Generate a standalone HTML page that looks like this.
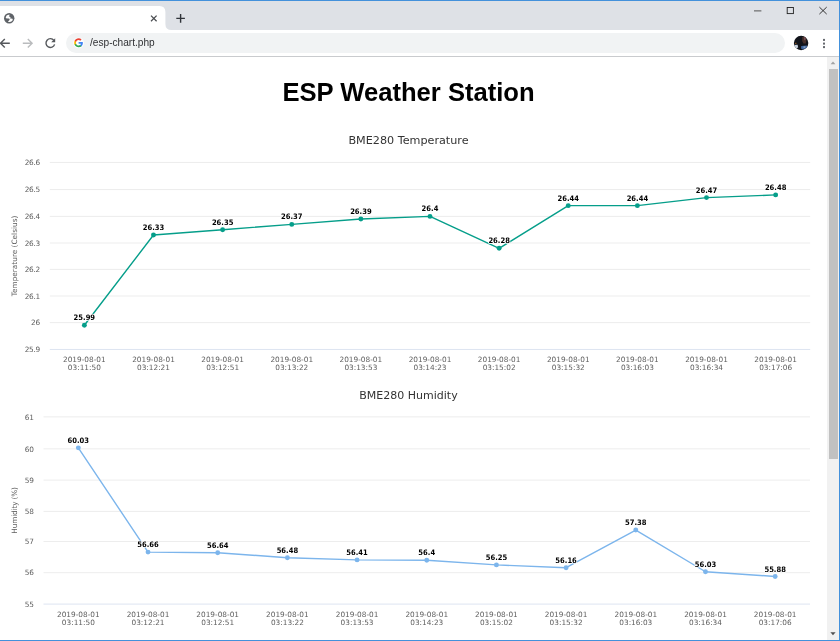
<!DOCTYPE html>
<html lang="en"><head><meta charset="utf-8"><title>ESP Weather Station</title>
<style>
html,body{margin:0;padding:0;background:#fff;}
body{width:840px;height:641px;position:relative;overflow:hidden;font-family:"Liberation Sans",sans-serif;}
#win{position:absolute;left:0;top:0;width:840px;height:641px;overflow:hidden;background:#fff;}
#tabstrip{position:absolute;left:0;top:0;width:840px;height:30px;background:#dee1e6;}
#topb{position:absolute;left:0;top:0;width:840px;height:1px;background:#4391db;z-index:20;}
#rightb{position:absolute;left:839px;top:0;width:1px;height:641px;background:#4391db;z-index:20;}
#botb{position:absolute;left:0;top:640px;width:840px;height:1px;background:#4391db;z-index:20;}
#toolbar{position:absolute;left:0;top:30px;width:840px;height:26px;background:#fff;}
#tbline{position:absolute;left:0;top:56px;width:840px;height:1px;background:#c9cbce;}
#pill{position:absolute;left:66px;top:33px;width:719px;height:19.6px;border-radius:10px;background:#f1f3f4;}
#url{position:absolute;left:90px;top:37.35px;font-size:10.15px;line-height:12px;color:#2f3033;white-space:nowrap;}
#content{position:absolute;left:0;top:57px;width:827px;height:583px;background:#fff;}
h2{position:absolute;left:0;top:77px;width:817px;margin:0;text-align:center;font-size:25.6px;line-height:30px;font-weight:bold;color:#000;white-space:nowrap;}
#sb{position:absolute;left:827px;top:57px;width:12px;height:583px;background:#f1f1f1;}
#thumb{position:absolute;left:2px;top:12px;width:9px;height:390px;background:#c1c1c1;}
svg{position:absolute;left:0;top:0;}
.ct{font-family:"DejaVu Sans", "Liberation Sans", sans-serif;font-size:11.2px;fill:#333;}
.al{font-family:"DejaVu Sans", "Liberation Sans", sans-serif;font-size:7.35px;fill:#5e5e5e;}
.yl{letter-spacing:-0.3px;}
.dl{font-family:"DejaVu Sans Condensed","DejaVu Sans","Liberation Sans",sans-serif;font-stretch:condensed;font-size:7.55px;font-weight:bold;fill:#000;stroke:#fff;stroke-width:1.4px;paint-order:stroke;stroke-linejoin:round;}
</style></head><body>
<div id="win">
<div id="tabstrip"></div>
<div id="toolbar"></div>
<div id="tbline"></div>
<div id="pill"></div>
<div id="url">/esp-chart.php</div>
<div id="content"></div>
<h2>ESP Weather Station</h2>
<div id="sb"><div id="thumb"></div></div>
<svg id="chrome" width="840" height="641" viewBox="0 0 840 641">
<!-- active tab -->
<path d="M0 30 L0 6 L159.4 6 Q165.4 6 165.4 12 L165.4 24 Q165.4 30 171.6 30 Z" fill="#fff"/>
<!-- globe favicon -->
<circle cx="9.2" cy="18.2" r="5.2" fill="#5f6368"/>
<path d="M5.7 17.4 L6.6 15.6 L8.4 14.8 L9.9 14.8 L8.8 16.3 L10.6 17.3 L10 18.6 L7.8 18.5 L6 18.2 Z" fill="#fff"/>
<path d="M9.2 18.3 L12.5 18.7 L12.8 20 L11.8 21.3 L10 22.1 L7.9 21.9 L9 20.6 L9.9 19.8 L8.9 18.8 Z" fill="#fff"/>
<!-- tab close -->
<path d="M151 15.6 L156.6 21.2 M156.6 15.6 L151 21.2" stroke="#4a4d51" stroke-width="1.25" fill="none"/>
<!-- new tab plus -->
<path d="M176.3 18.4 H184.9 M180.6 14.1 V22.7" stroke="#30343a" stroke-width="1.4" fill="none"/>
<!-- window controls -->
<path d="M754 10.9 H761.4" stroke="#555" stroke-width="1" fill="none"/>
<rect x="787.2" y="7.5" width="6.2" height="6.1" stroke="#222" stroke-width="0.9" fill="none"/>
<path d="M819.4 7.1 L826.7 14.1 M826.7 7.1 L819.4 14.1" stroke="#222" stroke-width="0.9" fill="none"/>
<!-- back -->
<path d="M9.8 43.2 H0.6 M4.8 38.9 L0.5 43.2 L4.8 47.5" stroke="#55585c" stroke-width="1.4" fill="none"/>
<!-- forward -->
<path d="M22.8 43.2 H32 M27.8 38.9 L32.1 43.2 L27.8 47.5" stroke="#babcbe" stroke-width="1.4" fill="none"/>
<!-- reload -->
<path d="M53.9 40.4 A4.4 4.4 0 1 0 54.6 44.4" stroke="#55585c" stroke-width="1.4" fill="none"/>
<path d="M55.2 38.2 V42.2 H51.2 Z" fill="#55585c"/>
<!-- google G -->
<circle cx="78.6" cy="42.9" r="5.4" fill="#fff" fill-opacity="0.85"/>
<g transform="translate(73.75,37.95) scale(0.202)">
<path fill="#4285F4" d="M45.12 24.5c0-1.56-.14-3.06-.4-4.5H24v8.51h11.84c-.51 2.75-2.06 5.08-4.39 6.64v5.52h7.11c4.16-3.83 6.56-9.47 6.56-16.17z"/>
<path fill="#34A853" d="M24 46c5.94 0 10.92-1.97 14.56-5.33l-7.11-5.52c-1.97 1.32-4.49 2.1-7.45 2.1-5.73 0-10.58-3.87-12.31-9.07H4.34v5.7C7.96 41.07 15.4 46 24 46z"/>
<path fill="#FBBC05" d="M11.69 28.18C11.25 26.86 11 25.45 11 24s.25-2.86.69-4.18v-5.7H4.34C2.85 17.09 2 20.45 2 24c0 3.55.85 6.91 2.34 9.88l7.35-5.7z"/>
<path fill="#EA4335" d="M24 10.75c3.23 0 6.13 1.11 8.41 3.29l6.31-6.31C34.91 4.18 29.93 2 24 2 15.4 2 7.96 6.930 4.34 14.12l7.35 5.7c1.73-5.2 6.58-9.07 12.31-9.07z"/>
</g>
<!-- avatar -->
<clipPath id="avc"><circle cx="801.1" cy="43" r="7.2"/></clipPath>
<g clip-path="url(#avc)">
<rect x="793" y="35" width="16" height="16" fill="#11141b"/>
<path d="M802.2 37 L805.6 36.6 L806.4 40 L805.8 43.4 L803.4 43.6 L802.2 41 Z" fill="#47302b"/>
<path d="M803.8 37.4 L805.4 37.2 L805.6 39.6 L804.4 40.4 Z" fill="#7d525a"/>
<path d="M794 45 L797.6 44.7 L798.2 47.6 L795.4 48.4 Z" fill="#c9d3e0"/>
<path d="M801.2 46 L806.9 45.4 L807.2 48 L803 49.6 L801 48.4 Z" fill="#3f659c"/>
<path d="M803.4 46.6 L805.6 46.2 L805.2 47.8 L803.6 48 Z" fill="#8aa5c9"/>
<rect x="795.1" y="42.8" width="1.3" height="1" fill="#b06a2a"/>
</g>
<!-- menu dots -->
<rect x="823" y="38.9" width="2" height="2" fill="#676a6f"/>
<rect x="823" y="42.6" width="2" height="2" fill="#676a6f"/>
<rect x="823" y="46.1" width="2" height="2" fill="#676a6f"/>
<!-- scrollbar arrows -->
<path d="M830.6 64.3 L833 61.600 L835.400 64.300 Z" fill="#a3a3a3"/>
<path d="M830.400 632.200 L835.600 632.200 L833 635.200 Z" fill="#505050"/>

</svg>
<svg id="charts" width="840" height="641" viewBox="0 0 840 641">
<text x="408.5" y="143.8" text-anchor="middle" class="ct" style="font-size:11.2px">BME280 Temperature</text>
<rect x="49.8" y="161.95" width="760.4000000000001" height="1" fill="#ededed"/>
<text x="39.8" y="165.25" text-anchor="end" class="al yl">26.6</text>
<rect x="49.8" y="189.05" width="760.4000000000001" height="1" fill="#ededed"/>
<text x="39.8" y="192.35" text-anchor="end" class="al yl">26.5</text>
<rect x="49.8" y="215.90" width="760.4000000000001" height="1" fill="#ededed"/>
<text x="39.8" y="219.20" text-anchor="end" class="al yl">26.4</text>
<rect x="49.8" y="242.50" width="760.4000000000001" height="1" fill="#ededed"/>
<text x="39.8" y="245.80" text-anchor="end" class="al yl">26.3</text>
<rect x="49.8" y="268.90" width="760.4000000000001" height="1" fill="#ededed"/>
<text x="39.8" y="272.20" text-anchor="end" class="al yl">26.2</text>
<rect x="49.8" y="295.50" width="760.4000000000001" height="1" fill="#ededed"/>
<text x="39.8" y="298.80" text-anchor="end" class="al yl">26.1</text>
<rect x="49.8" y="322.10" width="760.4000000000001" height="1" fill="#ededed"/>
<text x="39.8" y="325.40" text-anchor="end" class="al yl">26</text>
<rect x="49.8" y="348.95" width="760.4000000000001" height="1" fill="#dde4f1"/>
<text x="39.8" y="352.25" text-anchor="end" class="al yl">25.9</text>
<text transform="translate(17.3,255.95) rotate(-90)" text-anchor="middle" class="al" style="letter-spacing:0px">Temperature (Celsius)</text>
<text x="84.36" y="362.05" text-anchor="middle" class="al">2019-08-01</text>
<text x="84.36" y="370.10" text-anchor="middle" class="al">03:11:50</text>
<text x="153.49" y="362.05" text-anchor="middle" class="al">2019-08-01</text>
<text x="153.49" y="370.10" text-anchor="middle" class="al">03:12:21</text>
<text x="222.62" y="362.05" text-anchor="middle" class="al">2019-08-01</text>
<text x="222.62" y="370.10" text-anchor="middle" class="al">03:12:51</text>
<text x="291.75" y="362.05" text-anchor="middle" class="al">2019-08-01</text>
<text x="291.75" y="370.10" text-anchor="middle" class="al">03:13:22</text>
<text x="360.87" y="362.05" text-anchor="middle" class="al">2019-08-01</text>
<text x="360.87" y="370.10" text-anchor="middle" class="al">03:13:53</text>
<text x="430.00" y="362.05" text-anchor="middle" class="al">2019-08-01</text>
<text x="430.00" y="370.10" text-anchor="middle" class="al">03:14:23</text>
<text x="499.13" y="362.05" text-anchor="middle" class="al">2019-08-01</text>
<text x="499.13" y="370.10" text-anchor="middle" class="al">03:15:02</text>
<text x="568.25" y="362.05" text-anchor="middle" class="al">2019-08-01</text>
<text x="568.25" y="370.10" text-anchor="middle" class="al">03:15:32</text>
<text x="637.38" y="362.05" text-anchor="middle" class="al">2019-08-01</text>
<text x="637.38" y="370.10" text-anchor="middle" class="al">03:16:03</text>
<text x="706.51" y="362.05" text-anchor="middle" class="al">2019-08-01</text>
<text x="706.51" y="370.10" text-anchor="middle" class="al">03:16:34</text>
<text x="775.64" y="362.05" text-anchor="middle" class="al">2019-08-01</text>
<text x="775.64" y="370.10" text-anchor="middle" class="al">03:17:06</text>
<polyline points="84.36,325.29 153.49,235.02 222.62,229.70 291.75,224.38 360.87,219.06 430.00,216.40 499.13,248.28 568.25,205.66 637.38,205.66 706.51,197.61 775.64,194.92" fill="none" stroke="#059e8a" stroke-width="1.4" stroke-linejoin="round" stroke-linecap="round"/>
<circle cx="84.36" cy="325.29" r="2.45" fill="#059e8a"/>
<circle cx="153.49" cy="235.02" r="2.45" fill="#059e8a"/>
<circle cx="222.62" cy="229.70" r="2.45" fill="#059e8a"/>
<circle cx="291.75" cy="224.38" r="2.45" fill="#059e8a"/>
<circle cx="360.87" cy="219.06" r="2.45" fill="#059e8a"/>
<circle cx="430.00" cy="216.40" r="2.45" fill="#059e8a"/>
<circle cx="499.13" cy="248.28" r="2.45" fill="#059e8a"/>
<circle cx="568.25" cy="205.66" r="2.45" fill="#059e8a"/>
<circle cx="637.38" cy="205.66" r="2.45" fill="#059e8a"/>
<circle cx="706.51" cy="197.61" r="2.45" fill="#059e8a"/>
<circle cx="775.64" cy="194.92" r="2.45" fill="#059e8a"/>
<text x="84.36" y="320.19" text-anchor="middle" class="dl">25.99</text>
<text x="153.49" y="229.92" text-anchor="middle" class="dl">26.33</text>
<text x="222.62" y="224.60" text-anchor="middle" class="dl">26.35</text>
<text x="291.75" y="219.28" text-anchor="middle" class="dl">26.37</text>
<text x="360.87" y="213.96" text-anchor="middle" class="dl">26.39</text>
<text x="430.00" y="211.30" text-anchor="middle" class="dl">26.4</text>
<text x="499.13" y="243.18" text-anchor="middle" class="dl">26.28</text>
<text x="568.25" y="200.56" text-anchor="middle" class="dl">26.44</text>
<text x="637.38" y="200.56" text-anchor="middle" class="dl">26.44</text>
<text x="706.51" y="192.51" text-anchor="middle" class="dl">26.47</text>
<text x="775.64" y="189.82" text-anchor="middle" class="dl">26.48</text>
<text x="408.5" y="398.9" text-anchor="middle" class="ct" style="font-size:11.0px">BME280 Humidity</text>
<rect x="43.5" y="416.37" width="766.5" height="1" fill="#ededed"/>
<text x="33.6" y="419.67" text-anchor="end" class="al yl">61</text>
<rect x="43.5" y="448.33" width="766.5" height="1" fill="#ededed"/>
<text x="33.6" y="451.63" text-anchor="end" class="al yl">60</text>
<rect x="43.5" y="479.62" width="766.5" height="1" fill="#ededed"/>
<text x="33.6" y="482.92" text-anchor="end" class="al yl">59</text>
<rect x="43.5" y="510.90" width="766.5" height="1" fill="#ededed"/>
<text x="33.6" y="514.20" text-anchor="end" class="al yl">58</text>
<rect x="43.5" y="540.97" width="766.5" height="1" fill="#ededed"/>
<text x="33.6" y="544.27" text-anchor="end" class="al yl">57</text>
<rect x="43.5" y="572.18" width="766.5" height="1" fill="#ededed"/>
<text x="33.6" y="575.48" text-anchor="end" class="al yl">56</text>
<rect x="43.5" y="603.58" width="766.5" height="1" fill="#dde4f1"/>
<text x="33.6" y="606.88" text-anchor="end" class="al yl">55</text>
<text transform="translate(17.3,510.48) rotate(-90)" text-anchor="middle" class="al" style="letter-spacing:-0.17px">Humidity (%)</text>
<text x="78.34" y="616.93" text-anchor="middle" class="al">2019-08-01</text>
<text x="78.34" y="624.98" text-anchor="middle" class="al">03:11:50</text>
<text x="148.02" y="616.93" text-anchor="middle" class="al">2019-08-01</text>
<text x="148.02" y="624.98" text-anchor="middle" class="al">03:12:21</text>
<text x="217.70" y="616.93" text-anchor="middle" class="al">2019-08-01</text>
<text x="217.70" y="624.98" text-anchor="middle" class="al">03:12:51</text>
<text x="287.39" y="616.93" text-anchor="middle" class="al">2019-08-01</text>
<text x="287.39" y="624.98" text-anchor="middle" class="al">03:13:22</text>
<text x="357.07" y="616.93" text-anchor="middle" class="al">2019-08-01</text>
<text x="357.07" y="624.98" text-anchor="middle" class="al">03:13:53</text>
<text x="426.75" y="616.93" text-anchor="middle" class="al">2019-08-01</text>
<text x="426.75" y="624.98" text-anchor="middle" class="al">03:14:23</text>
<text x="496.43" y="616.93" text-anchor="middle" class="al">2019-08-01</text>
<text x="496.43" y="624.98" text-anchor="middle" class="al">03:15:02</text>
<text x="566.11" y="616.93" text-anchor="middle" class="al">2019-08-01</text>
<text x="566.11" y="624.98" text-anchor="middle" class="al">03:15:32</text>
<text x="635.80" y="616.93" text-anchor="middle" class="al">2019-08-01</text>
<text x="635.80" y="624.98" text-anchor="middle" class="al">03:16:03</text>
<text x="705.48" y="616.93" text-anchor="middle" class="al">2019-08-01</text>
<text x="705.48" y="624.98" text-anchor="middle" class="al">03:16:34</text>
<text x="775.16" y="616.93" text-anchor="middle" class="al">2019-08-01</text>
<text x="775.16" y="624.98" text-anchor="middle" class="al">03:17:06</text>
<polyline points="78.34,447.87 148.02,552.08 217.70,552.71 287.39,557.70 357.07,559.88 426.75,560.20 496.43,564.88 566.11,567.69 635.80,530.04 705.48,571.74 775.16,576.45" fill="none" stroke="#7cb5ec" stroke-width="1.4" stroke-linejoin="round" stroke-linecap="round"/>
<circle cx="78.34" cy="447.87" r="2.45" fill="#7cb5ec"/>
<circle cx="148.02" cy="552.08" r="2.45" fill="#7cb5ec"/>
<circle cx="217.70" cy="552.71" r="2.45" fill="#7cb5ec"/>
<circle cx="287.39" cy="557.70" r="2.45" fill="#7cb5ec"/>
<circle cx="357.07" cy="559.88" r="2.45" fill="#7cb5ec"/>
<circle cx="426.75" cy="560.20" r="2.45" fill="#7cb5ec"/>
<circle cx="496.43" cy="564.88" r="2.45" fill="#7cb5ec"/>
<circle cx="566.11" cy="567.69" r="2.45" fill="#7cb5ec"/>
<circle cx="635.80" cy="530.04" r="2.45" fill="#7cb5ec"/>
<circle cx="705.48" cy="571.74" r="2.45" fill="#7cb5ec"/>
<circle cx="775.16" cy="576.45" r="2.45" fill="#7cb5ec"/>
<text x="78.34" y="443.07" text-anchor="middle" class="dl">60.03</text>
<text x="148.02" y="547.28" text-anchor="middle" class="dl">56.66</text>
<text x="217.70" y="547.91" text-anchor="middle" class="dl">56.64</text>
<text x="287.39" y="552.90" text-anchor="middle" class="dl">56.48</text>
<text x="357.07" y="555.08" text-anchor="middle" class="dl">56.41</text>
<text x="426.75" y="555.40" text-anchor="middle" class="dl">56.4</text>
<text x="496.43" y="560.08" text-anchor="middle" class="dl">56.25</text>
<text x="566.11" y="562.89" text-anchor="middle" class="dl">56.16</text>
<text x="635.80" y="525.24" text-anchor="middle" class="dl">57.38</text>
<text x="705.48" y="566.94" text-anchor="middle" class="dl">56.03</text>
<text x="775.16" y="571.65" text-anchor="middle" class="dl">55.88</text>
</svg>
<div id="topb"></div><div id="rightb"></div><div id="botb"></div>
</div>
</body></html>
